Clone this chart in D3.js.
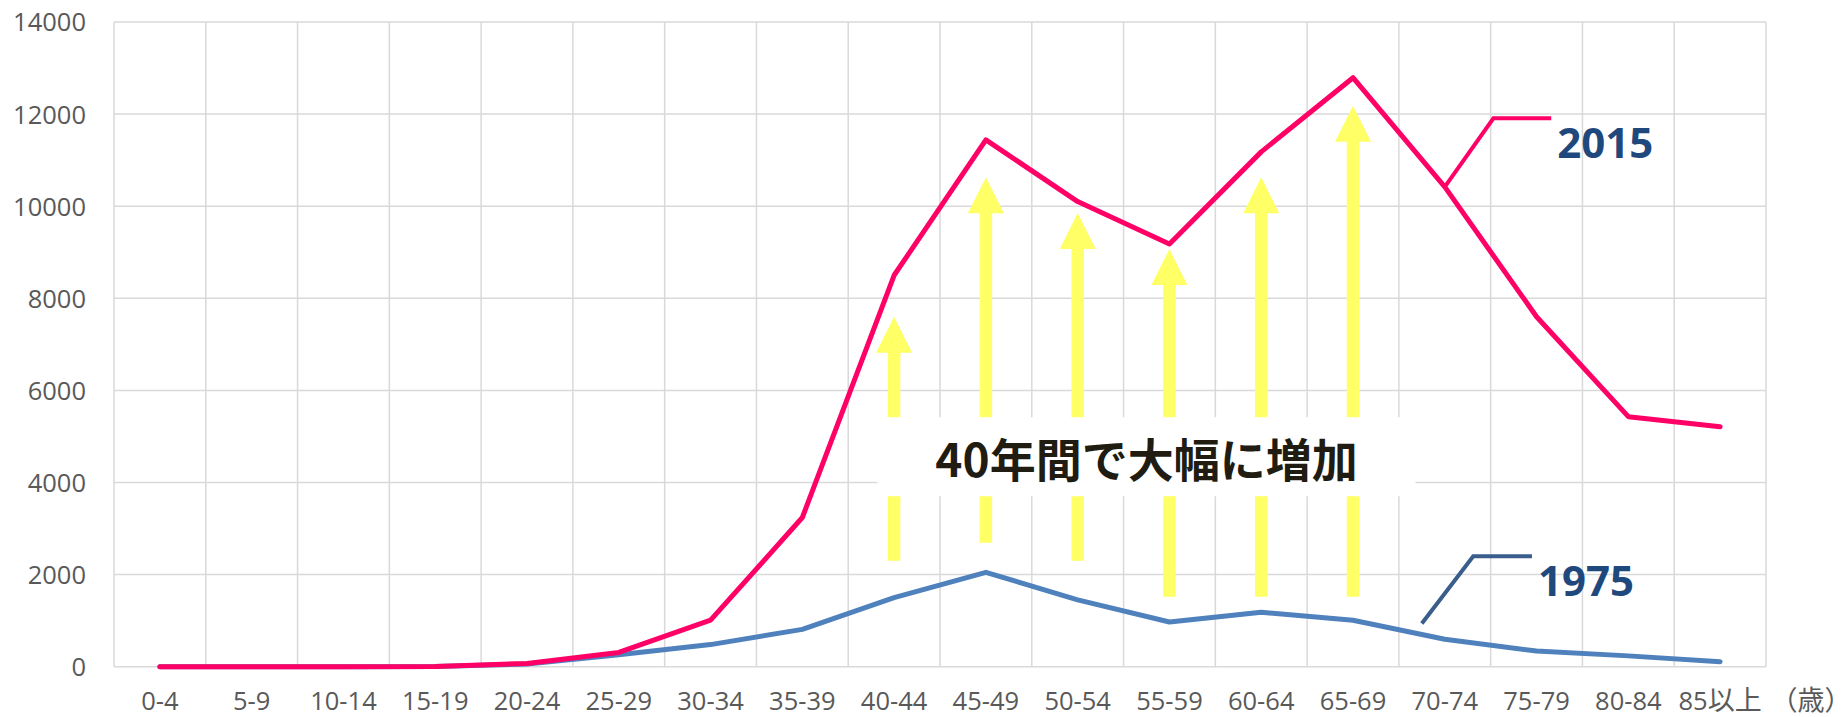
<!DOCTYPE html>
<html>
<head>
<meta charset="utf-8">
<script src="https://cdn.jsdelivr.net/npm/d3@7"></script>
<style>
  html, body { margin: 0; padding: 0; background: #ffffff; }
  svg { display: block; }
  .unit { font-feature-settings: "halt" 1; }
</style>
</head>
<body>
<svg id="chart" width="1841" height="717"></svg>
<script>
// Age groups on the horizontal axis
const ageGroups = ["0-4", "5-9", "10-14", "15-19", "20-24", "25-29", "30-34", "35-39", "40-44",
                   "45-49", "50-54", "55-59", "60-64", "65-69", "70-74", "75-79", "80-84", "85以上"];

// Head counts per age group
const pop1975 = [0, 0, 0, 5, 60, 260, 480, 810, 1500, 2050, 1450, 970, 1180, 1010, 595, 340, 235, 110];
const pop2015 = [0, 0, 0, 5, 70, 310, 1010, 3240, 8500, 11440, 10100, 9180, 11180, 12790, 10420, 7600, 5430, 5210];

const yTicks = [0, 2000, 4000, 6000, 8000, 10000, 12000, 14000];

// Growth arrows: from / to values per age group
const arrowGroups = ["40-44", "45-49", "50-54", "55-59", "60-64", "65-69"];
const arrowFrom = [2300, 2690, 2300, 1520, 1520, 1520];
const arrowTo   = [7600, 10630, 9850, 9070, 10630, 12180];

const calloutText = "40年間で大幅に増加";
const seriesNames = ["1975", "2015"];
const unitLabel = "（歳）";

// ---- layout ----
const W = 1841, H = 717;
const plot = { left: 114, right: 1766, top: 22, bottom: 666.7 };
const xLabelBaseline = 710;
const svg = d3.select("#chart");

const x = d3.scaleBand().domain(ageGroups).range([plot.left, plot.right]).paddingInner(0).paddingOuter(0);
const bw = x.bandwidth();
const cx = d => x(d) + bw / 2;
// continuous position by group index (used for annotations)
const xi = d3.scaleLinear().domain([0, ageGroups.length - 1])
  .range([cx(ageGroups[0]), cx(ageGroups[ageGroups.length - 1])]);
const y = d3.scaleLinear().domain([0, 14000]).range([plot.bottom, plot.top]);

const gridColor = "#d9d9d9";
const textGray = "#595959";
const axisFont = "'Open Sans', 'Noto Sans CJK JP', sans-serif";

// ---- grid ----
const grid = svg.append("g").attr("class", "grid");
grid.selectAll("line.h").data(yTicks).join("line")
  .attr("class", "h")
  .attr("x1", plot.left).attr("x2", plot.right)
  .attr("y1", d => y(d)).attr("y2", d => y(d))
  .attr("stroke", gridColor).attr("stroke-width", 1.5);
const vEdges = ageGroups.map(d => x(d)).concat([plot.right]);
grid.selectAll("line.v").data(vEdges).join("line")
  .attr("class", "v")
  .attr("x1", d => d).attr("x2", d => d)
  .attr("y1", plot.top).attr("y2", plot.bottom)
  .attr("stroke", gridColor).attr("stroke-width", 1.5);

// ---- axes ----
const yAxis = d3.axisLeft(y).tickValues(yTicks).tickSize(0).tickPadding(28).tickFormat(d3.format("d"));
const yG = svg.append("g").attr("transform", `translate(${plot.left},0)`).call(yAxis);
yG.select(".domain").remove();
yG.selectAll("text")
  .attr("font-family", axisFont).attr("font-size", 25.5).attr("fill", textGray)
  .attr("dy", "0.35em");

const xAxis = d3.axisBottom(x).tickSize(0);
const xG = svg.append("g").attr("transform", `translate(0,${plot.bottom})`).call(xAxis);
xG.select(".domain").remove();
xG.selectAll("text")
  .attr("font-family", axisFont).attr("font-size", 25.5).attr("fill", textGray)
  .attr("y", xLabelBaseline - plot.bottom).attr("dy", null)
  .each(function (d) {
    const m = d.match(/^([\x00-\x7F]*)(.*)$/);
    if (m && m[2]) {
      const t = d3.select(this).text(null);
      t.append("tspan").text(m[1]);
      t.append("tspan").attr("font-family", "'Noto Sans CJK JP', sans-serif").attr("font-size", 27).text(m[2]);
    }
  });

// unit label, with half-width brackets so it fits at the right edge
svg.append("text")
  .attr("class", "unit")
  .attr("x", 1784).attr("y", xLabelBaseline)
  .attr("font-family", "'Noto Sans CJK JP', sans-serif").attr("font-size", 27).attr("fill", textGray)
  .text(unitLabel);

// ---- growth arrows ----
const headW = 18, headH = 36, shaftW = 6.25;
const arrowData = arrowGroups.map((g, i) => ({ g, from: arrowFrom[i], to: arrowTo[i] }));
svg.append("g").selectAll("path").data(arrowData).join("path")
  .attr("fill", "#ffff66")
  .attr("d", d => {
    const c = cx(d.g), t = y(d.to), b = y(d.from);
    return `M${c},${t}L${c + headW},${t + headH}L${c + shaftW},${t + headH}L${c + shaftW},${b}` +
           `L${c - shaftW},${b}L${c - shaftW},${t + headH}L${c - headW},${t + headH}Z`;
  });

// ---- callout ----
const boxCx = xi(10.75), boxCy = y(4560), boxW = 538, boxH = 79;
svg.append("rect")
  .attr("x", boxCx - boxW / 2).attr("y", boxCy - boxH / 2)
  .attr("width", boxW).attr("height", boxH)
  .attr("fill", "#ffffff");
svg.append("text")
  .attr("x", boxCx).attr("y", boxCy)
  .attr("text-anchor", "middle").attr("dominant-baseline", "central")
  .attr("font-family", "'Noto Sans CJK JP', sans-serif").attr("font-weight", 700)
  .attr("font-size", 46).attr("fill", "#201c12")
  .text(calloutText);

// ---- series lines ----
const line = d3.line().x((d, i) => cx(ageGroups[i])).y(d => y(d));
svg.append("path").datum(pop1975)
  .attr("d", line).attr("fill", "none")
  .attr("stroke", "#4f81bd").attr("stroke-width", 5)
  .attr("stroke-linejoin", "round").attr("stroke-linecap", "round");
svg.append("path").datum(pop2015)
  .attr("d", line).attr("fill", "none")
  .attr("stroke", "#ff0066").attr("stroke-width", 5)
  .attr("stroke-linejoin", "round").attr("stroke-linecap", "round");

// ---- series labels with leader lines ----
const leaders = [
  { name: seriesNames[0], color: "#3a5e8c", pts: [[13.75, 940], [14.31, 2400], [14.95, 2400]] },
  { name: seriesNames[1], color: "#ff0066", pts: [[14, 10420], [14.53, 11910], [15.16, 11910]] }
];
const lp = d3.line().x(p => xi(p[0])).y(p => y(p[1]));
leaders.forEach(l => {
  svg.append("path").attr("d", lp(l.pts)).attr("fill", "none")
    .attr("stroke", l.color).attr("stroke-width", 4);
  const end = l.pts[l.pts.length - 1];
  svg.append("text")
    .attr("x", xi(end[0]) + 6).attr("y", y(end[1]) + 40)
    .attr("font-family", "'Open Sans', sans-serif").attr("font-weight", 700)
    .attr("font-size", 42).attr("fill", "#1f497d")
    .text(l.name);
});
</script>
</body>
</html>
